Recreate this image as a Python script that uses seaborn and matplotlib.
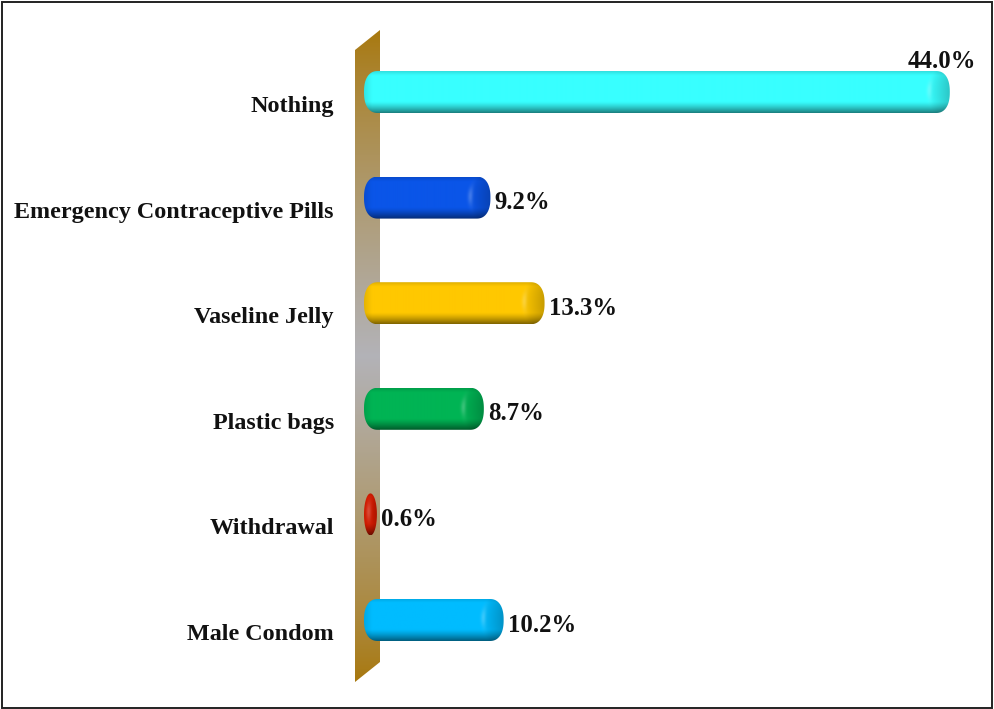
import matplotlib
matplotlib.use("Agg")
import numpy as np
import pandas as pd
import matplotlib.pyplot as plt
import seaborn as sns
from matplotlib.patches import PathPatch, Polygon, Rectangle
from matplotlib.path import Path
from matplotlib.transforms import ScaledTranslation

# values
methods = ["Nothing", "Emergency Contraceptive Pills", "Vaseline Jelly",
           "Plastic bags", "Withdrawal", "Male Condom"]
percent = [44.0, 9.2, 13.3, 8.7, 0.6, 10.2]
colors = ["#38ffff", "#0a55e8", "#ffc800", "#00b454", "#e01c00", "#00bcff"]

W, H = 994, 709
X0_PX = 369       # pixel column of value 0
X_SCALE = 13.2    # pixels per percent
Y0_PX = 92        # pixel row of the first bar
Y_STEP = 105.6    # pixels between bars
BAR_PX = 42

sns.set_style("white")
plt.rcParams["font.family"] = ["Liberation Serif", "DejaVu Serif"]

df = pd.DataFrame({"method": methods, "percent": percent})

fig = plt.figure(figsize=(W / 100, H / 100), dpi=100)
ax = fig.add_axes([0, 0, 1, 1])
sns.barplot(data=df, x="percent", y="method", hue="method", palette=colors,
            order=methods, hue_order=methods, dodge=False, legend=False,
            width=BAR_PX / Y_STEP, ax=ax)
bars = sorted(ax.patches, key=lambda b: b.get_y())

xlim = (-X0_PX / X_SCALE, (W - X0_PX) / X_SCALE)
ylim = ((H - Y0_PX) / Y_STEP, -Y0_PX / Y_STEP)


def px_x(px):
    return (px - X0_PX) / X_SCALE


def px_y(px):
    return (px - Y0_PX) / Y_STEP


# the slanted wall behind the bars
wall = [(355, 50), (380, 30), (380, 662), (355, 682)]
ramp = np.linspace(0, 1, 256)
mix = 1 - np.abs(ramp - 0.5) * 2
brown = np.array([0.66, 0.47, 0.05])
grey = np.array([0.70, 0.70, 0.72])
wall_img = (brown[None, :] + (grey - brown)[None, :] * (mix[:, None] ** 0.8))[:, None, :]
im = ax.imshow(wall_img, extent=(px_x(355), px_x(380), px_y(682), px_y(30)),
               aspect="auto", origin="upper", zorder=1)
wall_patch = Polygon([(px_x(a), px_y(b)) for a, b in wall], closed=True,
                     transform=ax.transData, facecolor="none", edgecolor="none")
ax.add_patch(wall_patch)
im.set_clip_path(wall_patch)


def cylinder(bar, color):
    # turn a seaborn bar into a shaded capsule
    left_px = X0_PX + bar.get_x() * X_SCALE - 5
    right_px = X0_PX + bar.get_width() * X_SCALE
    cy = bar.get_y() + bar.get_height() / 2
    half = bar.get_height() / 2
    rx = min(14.0, (right_px - left_px) / 2)
    power = 0.85 if rx > 10 else 1.0  # squarer ends, except the tiny bar

    t = np.linspace(-np.pi / 2, np.pi / 2, 60)
    rx_d = rx / X_SCALE
    x1 = px_x(right_px)
    x0 = px_x(left_px)
    sq_cos = np.cos(t) ** power
    sq_sin = np.sign(np.sin(t)) * np.abs(np.sin(t)) ** power
    right = np.column_stack([x1 - rx_d + rx_d * sq_cos, cy + half * sq_sin])
    lft = np.column_stack([x0 + rx_d - rx_d * sq_cos[::-1], cy + half * sq_sin[::-1]])
    verts = np.vstack([right, lft, right[:1]])
    shape = PathPatch(Path(verts), transform=ax.transData, facecolor="none", edgecolor="none")
    ax.add_patch(shape)

    nx = max(int(right_px - left_px) * 2, 4)
    ny = BAR_PX * 2
    xs = np.linspace(left_px, right_px, nx)
    vs = np.linspace(-1, 1, ny)
    xx, vv = np.meshgrid(xs, vs)

    # rows: slightly dim rim on top, flat middle, dark underside
    shade = np.ones_like(vv)
    shade = np.where(vv > 0.45, 1 - 0.5 * ((vv - 0.45) / 0.55) ** 1.3, shade)
    shade = np.where(vv < -0.8, 1 - 0.12 * (-0.8 - vv) / 0.2, shade)
    # seam of the end cap, only a soft change of tone
    seam = right_px - rx - rx * np.sqrt(np.clip(1 - vv ** 2, 0, 1)) * 0.6
    d = xx - seam
    cap = np.where(d > 0, 1 - 0.22 * np.clip(d / (1.6 * rx), 0, 1), 1.0)
    glow = 0.22 * np.exp(-((d - 2) / 2.5) ** 2) * np.exp(-((vv + 0.1) / 0.45) ** 2)
    # left end rounds off a little darker
    edge = np.clip((xx - left_px) / 8.0, 0, 1)
    lefty = 0.9 + 0.1 * edge

    rgb = np.array(matplotlib.colors.to_rgb(color))
    img = rgb[None, None, :] * (shade * cap * lefty)[:, :, None]
    img = img + (1 - img) * glow[:, :, None]
    img = np.clip(img, 0, 1)

    part = ax.imshow(img, extent=(x0, x1, cy + half, cy - half), aspect="auto",
                     origin="upper", zorder=3, interpolation="bilinear")
    part.set_clip_path(shape)


for bar, color in zip(bars, colors):
    bar.set_visible(False)
    cylinder(bar, color)

ax.set_xlim(*xlim)
ax.set_ylim(*ylim)

# value labels
label_style = dict(fontsize=17.8, fontweight="bold", color="#111111", zorder=5,
                   textcoords="offset pixels")
for i, val in enumerate(percent):
    if i == 0:
        ax.annotate(f"{val:.1f}%", (val, i), xytext=(-8, 30), ha="center", va="center", **label_style)
    else:
        ax.annotate(f"{val:.1f}%", (val, i), xytext=(4, -5), ha="left", va="center", **label_style)

ax.set_xlabel("")
ax.set_ylabel("")
ax.set_xticks([])
ax.spines["left"].set_position(("data", px_x(334)))
ax.set_yticks(range(len(methods)))
ax.set_yticklabels(methods, fontsize=17.4, fontweight="bold", color="#111111")
ax.tick_params(axis="y", length=0, pad=0)
shift = ScaledTranslation(0, -12 / 100, fig.dpi_scale_trans)
for lab in ax.get_yticklabels():
    lab.set_transform(lab.get_transform() + shift)
sns.despine(ax=ax, left=True, bottom=True)

# picture frame
fig.add_artist(Rectangle((1.5 / W, 1.5 / H), (W - 4) / W, (H - 3) / H, transform=fig.transFigure,
                         fill=False, edgecolor="#222222", linewidth=1.4))

fig.savefig("out.png", dpi=100)
